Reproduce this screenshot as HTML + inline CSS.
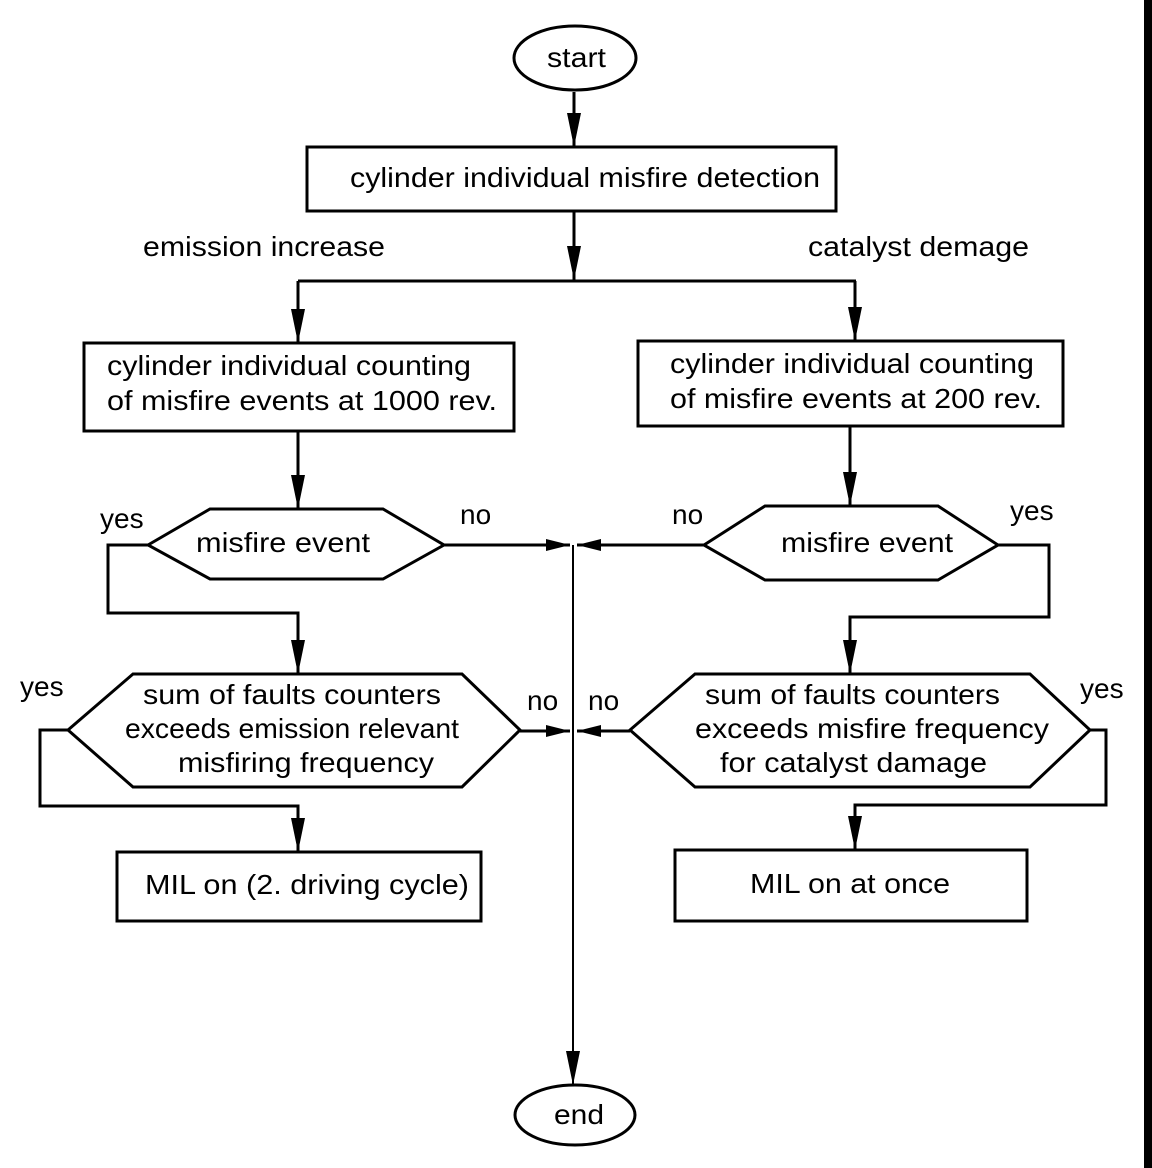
<!DOCTYPE html>
<html><head><meta charset="utf-8"><style>
html,body{margin:0;padding:0;background:#fff;}
svg{display:block;}
text{font-family:"Liberation Sans",Arial,sans-serif;font-size:28px;fill:#000;}
</style></head><body>
<svg width="1152" height="1168" viewBox="0 0 1152 1168" xmlns="http://www.w3.org/2000/svg">
<defs>
<marker id="h" markerWidth="24" markerHeight="12" refX="24" refY="6" orient="auto" markerUnits="userSpaceOnUse" viewBox="0 0 24 12"><path d="M0,0 L24,6 L0,12 Z" fill="#000"/></marker>
<marker id="a" markerWidth="34" markerHeight="14" refX="34" refY="7" orient="auto" markerUnits="userSpaceOnUse" viewBox="0 0 34 14"><path d="M0,0 L34,7 L0,14 Z" fill="#000"/></marker>
</defs>
<rect x="1144" y="0" width="8" height="1168" fill="#000"/>
<g fill="none" stroke="#000" stroke-width="3">
<ellipse cx="575" cy="58" rx="61" ry="32"/>
<rect x="307" y="147" width="529" height="64"/>
<rect x="84" y="343" width="430" height="88"/>
<rect x="638" y="341" width="425" height="85"/>
<polygon points="148,545 210,509 383,509 444,545 383,579 210,579"/>
<polygon points="704,545 765,506 938,506 998,545 938,580 765,580"/>
<polygon points="68,730 133,674 462,674 520,730 462,787 133,787"/>
<polygon points="630,730 695,674 1030,674 1090,730 1030,787 695,787"/>
<rect x="117" y="852" width="364" height="69"/>
<rect x="675" y="850" width="352" height="71"/>
<ellipse cx="575" cy="1115" rx="60" ry="30"/>
<line x1="574" y1="92" x2="574" y2="147" marker-end="url(#a)"/>
<line x1="574" y1="211" x2="574" y2="280" marker-end="url(#a)"/>
<line x1="298" y1="281" x2="856" y2="281"/>
<line x1="298" y1="281" x2="298" y2="343" marker-end="url(#a)"/>
<line x1="855" y1="281" x2="855" y2="341" marker-end="url(#a)"/>
<line x1="298" y1="431" x2="298" y2="509" marker-end="url(#a)"/>
<line x1="850" y1="426" x2="850" y2="506" marker-end="url(#a)"/>
<line x1="444" y1="545" x2="570" y2="545" marker-end="url(#h)"/>
<line x1="704" y1="545" x2="577" y2="545" marker-end="url(#h)"/>
<polyline points="148,545 108,545 108,613 298,613 298,674" marker-end="url(#a)"/>
<polyline points="998,545 1049,545 1049,617 850,617 850,674" marker-end="url(#a)"/>
<line x1="520" y1="731" x2="570" y2="731" marker-end="url(#h)"/>
<line x1="630" y1="731" x2="577" y2="731" marker-end="url(#h)"/>
<polyline points="68,730 40,730 40,806 298,806 298,852" marker-end="url(#a)"/>
<polyline points="1090,730 1106,730 1106,805 855,805 855,850" marker-end="url(#a)"/>
</g>
<line x1="573" y1="545" x2="573" y2="1085" stroke="#000" stroke-width="2" marker-end="url(#a)"/>
<text x="547" y="67" textLength="59" lengthAdjust="spacingAndGlyphs">start</text>
<text x="350" y="187" textLength="470" lengthAdjust="spacingAndGlyphs">cylinder individual misfire detection</text>
<text x="143" y="256" textLength="242" lengthAdjust="spacingAndGlyphs">emission increase</text>
<text x="808" y="256" textLength="221" lengthAdjust="spacingAndGlyphs">catalyst demage</text>
<text x="107" y="375" textLength="364" lengthAdjust="spacingAndGlyphs">cylinder individual counting</text>
<text x="107" y="410" textLength="390" lengthAdjust="spacingAndGlyphs">of misfire events at 1000 rev.</text>
<text x="670" y="373" textLength="364" lengthAdjust="spacingAndGlyphs">cylinder individual counting</text>
<text x="670" y="408" textLength="372" lengthAdjust="spacingAndGlyphs">of misfire events at 200 rev.</text>
<text x="196" y="552" textLength="174" lengthAdjust="spacingAndGlyphs">misfire event</text>
<text x="781" y="552" textLength="172" lengthAdjust="spacingAndGlyphs">misfire event</text>
<text x="100" y="528">yes</text>
<text x="460" y="524">no</text>
<text x="672" y="524">no</text>
<text x="1010" y="520">yes</text>
<text x="20" y="696">yes</text>
<text x="527" y="710">no</text>
<text x="588" y="710">no</text>
<text x="1080" y="698">yes</text>
<text x="143" y="704" textLength="298" lengthAdjust="spacingAndGlyphs">sum of faults counters</text>
<text x="125" y="738" textLength="334" lengthAdjust="spacingAndGlyphs">exceeds emission relevant</text>
<text x="178" y="772" textLength="256" lengthAdjust="spacingAndGlyphs">misfiring frequency</text>
<text x="705" y="704" textLength="295" lengthAdjust="spacingAndGlyphs">sum of faults counters</text>
<text x="695" y="738" textLength="354" lengthAdjust="spacingAndGlyphs">exceeds misfire frequency</text>
<text x="720" y="772" textLength="267" lengthAdjust="spacingAndGlyphs">for catalyst damage</text>
<text x="145" y="894" textLength="324" lengthAdjust="spacingAndGlyphs">MIL on (2. driving cycle)</text>
<text x="750" y="893" textLength="200" lengthAdjust="spacingAndGlyphs">MIL on at once</text>
<text x="554" y="1124" textLength="50" lengthAdjust="spacingAndGlyphs">end</text>
</svg>
</body></html>
